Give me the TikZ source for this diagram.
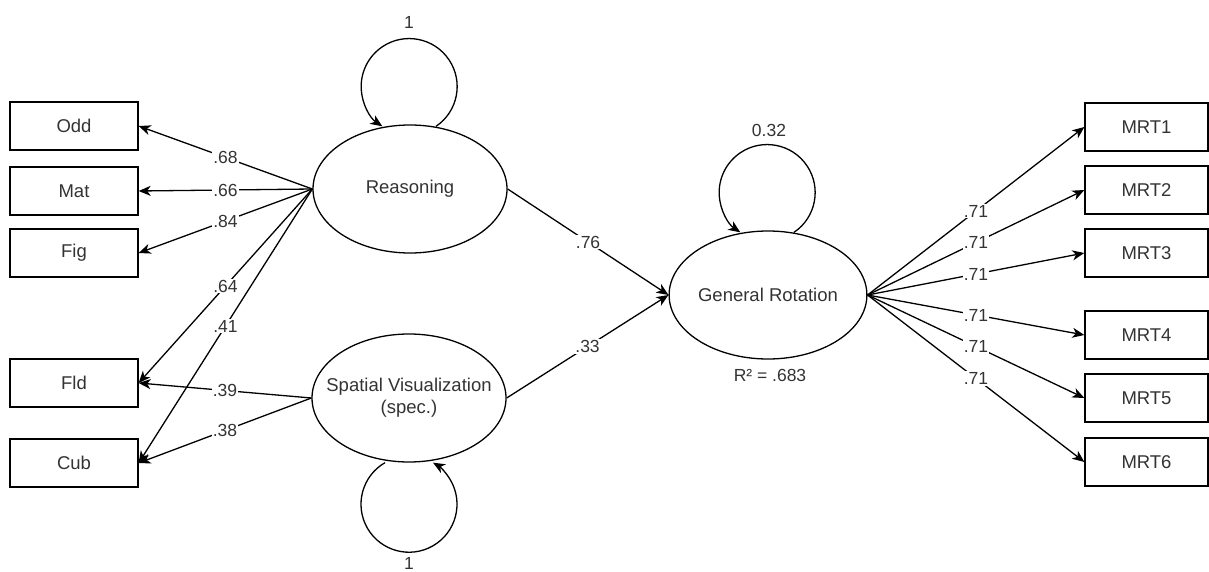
\documentclass[tikz,border=0pt]{standalone}
\usepackage{fontspec}
\setmainfont{Liberation Sans}
\usepackage{tikz}
\usetikzlibrary{shapes.geometric, arrows.meta}
\tikzstyle{lat}=[ellipse, draw, line width=1.3pt, minimum width=194pt, minimum height=128pt, inner sep=0pt, align=center, text=black!80, font=\fontsize{18.5}{22}\selectfont]
\tikzstyle{obs}=[rectangle, draw, line width=1.3pt, minimum width=128pt, minimum height=48pt, inner sep=0pt, text=black!80, font=\fontsize{18.5}{22}\selectfont]
\tikzstyle{wt}=[fill=white, inner sep=1pt, text=black!80, font=\fontsize{17.5}{20}\selectfont]
\tikzstyle{lbl}=[inner sep=0pt, text=black!80, font=\fontsize{17.5}{20}\selectfont]
\tikzstyle{arr}=[-{Stealth[length=12pt, width=10pt, inset=3.5pt]}, line width=1.3pt]

\begin{document}
\begin{tikzpicture}[x=1pt, y=-1pt]
				\useasboundingbox (0,0) rectangle (1209,572);
				\node[obs] (odd) at (74,126) {Odd};
				\node[obs] (mat) at (74,191) {Mat};
				\node[obs] (fig) at (74,253) {Fig};
				\node[obs] (fld) at (74,383) {Fld};
				\node[obs] (cub) at (74,463) {Cub};
				\node[lat] (reas) at (410,189) {Reasoning};
				\node[lat, inner xsep=-40pt] (spat) at (409,398) {Spatial Visualization\\(spec.)};
				\node[lat] (rot) at (768,295) {General Rotation};
				\node[obs, minimum width=123pt] (m1) at (1146.5,127) {MRT1};
				\node[obs, minimum width=123pt] (m2) at (1146.5,190) {MRT2};
				\node[obs, minimum width=123pt] (m3) at (1146.5,253) {MRT3};
				\node[obs, minimum width=123pt] (m4) at (1146.5,335) {MRT4};
				\node[obs, minimum width=123pt] (m5) at (1146.5,398) {MRT5};
				\node[obs, minimum width=123pt] (m6) at (1146.5,462) {MRT6};
				\node[lbl] (v1) at (409,22) {1};
				\node[lbl] (v2) at (409,563) {1};
				\node[lbl] (v3) at (769,130) {0.32};
				\node[lbl] (r2) at (770,375) {R² = .683};
				\draw[arr] (reas.west) -- node[wt] {.68} (odd.east);
				\draw[arr] (reas.west) -- node[wt] {.66} (mat.east);
				\draw[arr] (reas.west) -- node[wt] {.84} (fig.east);
				\draw[arr] (reas.west) -- node[wt] {.64} (fld.east);
				\draw[arr] (reas.west) -- node[wt] {.41} (cub.east);
				\draw[arr] (spat.west) -- node[wt] {.39} (fld.east);
				\draw[arr] (spat.west) -- node[wt] {.38} (cub.east);
				\draw[arr] (reas.east) -- node[wt] {.76} (rot.west);
				\draw[arr] (spat.east) -- node[wt] {.33} (rot.west);
				\draw[arr] (rot.east) -- node[wt] {.71} (m1.west);
				\draw[arr] (rot.east) -- node[wt] {.71} (m2.west);
				\draw[arr] (rot.east) -- node[wt] {.71} (m3.west);
				\draw[arr] (rot.east) -- node[wt] {.71} (m4.west);
				\draw[arr] (rot.east) -- node[wt] {.71} (m5.west);
				\draw[arr] (rot.east) -- node[wt] {.71} (m6.west);
				\draw[arr] ([xshift=26pt, yshift=-2pt]reas.north) arc[start angle=56, end angle=-236, radius=48];
				\draw[arr] ([xshift=-24pt]spat.south) arc[start angle=240, end angle=-60, radius=48];
				\draw[arr] ([xshift=26pt, yshift=-2pt]rot.north) arc[start angle=56, end angle=-236, radius=48];
			\end{tikzpicture}
\end{document}
